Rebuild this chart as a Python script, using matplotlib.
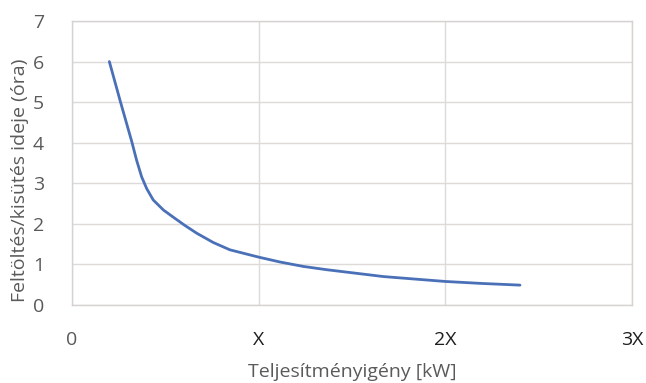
import matplotlib.pyplot as plt

# charge/discharge duration vs. power demand
power = [0.20, 0.26, 0.32, 0.346, 0.373, 0.40, 0.435, 0.49, 0.55, 0.605, 0.668, 0.757,
         0.846, 1.0, 1.114, 1.24, 1.364, 1.67, 2.0, 2.2, 2.4]
hours = [6.00, 5.00, 4.03, 3.57, 3.16, 2.87, 2.59, 2.34, 2.14, 1.96, 1.77, 1.54,
         1.36, 1.18, 1.06, 0.95, 0.87, 0.70, 0.58, 0.53, 0.49]

x_ticks = [0, 1, 2, 3]
x_labels = ['0', 'X', '2X', '3X']
y_ticks = [0, 1, 2, 3, 4, 5, 6, 7]

plt.rcParams['font.family'] = ['Open Sans', 'DejaVu Sans']

fig = plt.figure(figsize=(6.46, 3.83), dpi=100)
ax = fig.add_axes([72 / 646, 1 - 305 / 383, 560 / 646, 284 / 383])

ax.plot(power, hours, color='#4a70b8', linewidth=2.0,
        solid_capstyle='round', solid_joinstyle='round')

ax.set_xlim(0, 3)
ax.set_ylim(0, 7)
ax.set_xticks(x_ticks)
ax.set_xticklabels(x_labels)
ax.set_yticks(y_ticks)

ax.grid(True, color='#dedad8', linewidth=1.0)
ax.set_axisbelow(True)
for side in ax.spines.values():
    side.set_color('#d6d2d0')
    side.set_linewidth(1.0)

ax.tick_params(axis='both', length=0, labelsize=14, labelcolor='#5a5a5a')
ax.tick_params(axis='x', pad=19)
ax.tick_params(axis='y', pad=20)
for lbl in ax.get_xticklabels()[1:]:
    lbl.set_color('#1e1e1e')

fig.text(352 / 646, 1 - 372 / 383, 'Teljesítményigény [kW]', ha='center', va='center',
         fontsize=14, color='#5a5a5a')
fig.text(20 / 646, 1 - 180 / 383, 'Feltöltés/kisütés ideje (óra)', ha='center', va='center',
         rotation=90, fontsize=14, color='#5a5a5a')

fig.savefig('out.png', dpi=100)
